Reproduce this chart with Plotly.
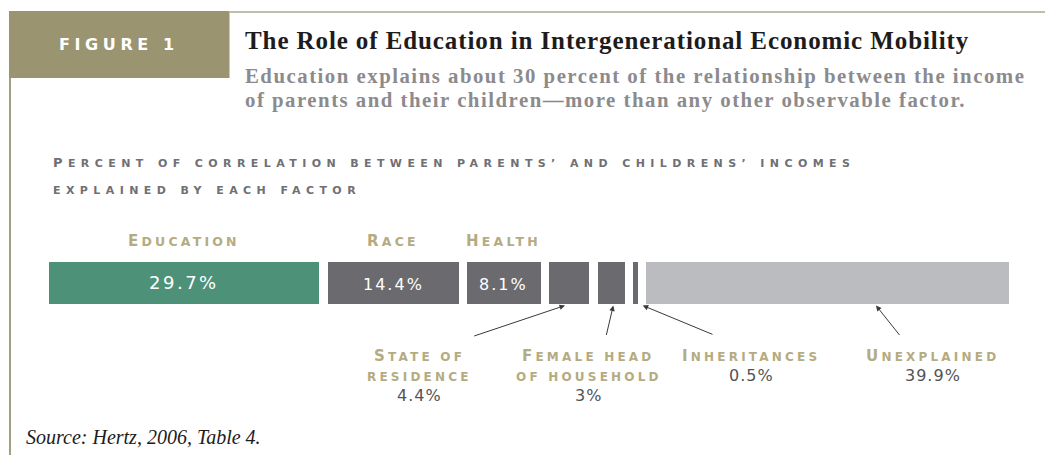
import plotly.graph_objects as go

# ---------------- data ----------------
categories = ["Education", "Race", "Health", "State of residence",
              "Female head of household", "Inheritances", "Unexplained"]
values = [29.7, 14.4, 8.1, 4.4, 3.0, 0.5, 39.9]
value_labels = ["29.7%", "14.4%", "8.1%", "4.4%", "3%", "0.5%", "39.9%"]
top_labels = ["Education", "Race", "Health"]                # labels above the bar
bottom_labels = [["State of", "residence"], ["Female head", "of household"],
                 ["Inheritances"], ["Unexplained"]]          # labels below the bar
bottom_index = [3, 4, 5, 6]

# ---------------- style ----------------
colors = ["#4e9179", "#6b6b6f", "#6b6b6f", "#6b6b6f", "#6b6b6f", "#6b6b6f", "#bbbcc0"]
GOLD = "#b4ab81"
HEAD_GREY = "#707074"
VAL_GREY = "#535356"
OLIVE = "#9b9470"
SANS = "DejaVu Sans"
SERIF = "Liberation Serif"

W, H = 1053, 455
OFF = 8  # page body margin: figure is drawn 8px right/down of page origin

GAP = 0.92
bases = []
acc = 0.0
for v in values:
    bases.append(acc)
    acc += v + GAP
span = acc - GAP
LEFT_PX, RIGHT_PX = 49.3 - OFF, 1009.0 - OFF
K = (RIGHT_PX - LEFT_PX) / span
xmin = -LEFT_PX / K
xmax = xmin + W / K
BAR_Y, BAR_H = 283.0 - OFF, 41.5


def px2x(px):
    return xmin + (px - OFF) / K


def sc(text, big, small, ls):
    """small-caps look: capitals at `big` size, the rest upper-cased at `small` size"""
    out = []
    for ch in text:
        if ch.isupper():
            out.append(f'<span style="font-size:{big}px;letter-spacing:{ls}px">{ch}</span>')
        else:
            out.append(f'<span style="font-size:{small}px;letter-spacing:{ls}px">{ch.upper()}</span>')
    return "".join(out)


fig = go.Figure()
for i, (c, v) in enumerate(zip(categories, values)):
    fig.add_trace(go.Bar(
        y=[BAR_Y], x=[v], base=[bases[i]], orientation="h", width=BAR_H,
        marker=dict(color=colors[i], line=dict(width=0)),
        name=c, showlegend=False, hoverinfo="skip"))

ann = []


def text(x_px, y_px, t, size, color, family=SANS, xanchor="center", weight=None):
    f = dict(size=size, color=color, family=family)
    if weight:
        f["weight"] = weight
    ann.append(dict(x=(x_px - OFF) / W, xref="paper", y=y_px - OFF, yref="y", text=t,
                    showarrow=False, xanchor=xanchor, yanchor="middle", align="left", font=f))


# header
text(118.5, 44.1, '<span style="letter-spacing:4.6px">FIGURE 1</span>', 16, "white", weight="bold")
text(243, 40.0, '<span style="letter-spacing:0.9px"><b>The Role of Education in Intergenerational '
     'Economic Mobility</b></span>', 25, "#1e1b1c", family=SERIF, xanchor="left")
text(243, 76.3, '<span style="letter-spacing:1.5px"><b>Education explains about 30 percent of the '
     'relationship between the income</b></span>', 20.8, "#8b8b8e", family=SERIF, xanchor="left")
text(243, 100.3, '<span style="letter-spacing:1.5px"><b>of parents and their children—more than any '
     'other observable factor.</b></span>', 20.8, "#8b8b8e", family=SERIF, xanchor="left")
text(51, 175.7,
     sc("Percent of correlation between parents’ and childrens’ incomes", 13, 11, 5.4) + "<br>"
     + sc("explained by each factor", 13, 11, 5.4),
     26.5 / 1.3, HEAD_GREY, xanchor="left", weight="bold")

# labels above bar and values in bar
for i, lab in enumerate(top_labels):
    cx = bases[i] + values[i] / 2
    ann.append(dict(x=cx, xref="x", y=240.8 - OFF, yref="y", showarrow=False,
                    text=sc(lab, 15, 12.5, 3.2),
                    font=dict(family=SANS, size=12.5, color=GOLD, weight="bold")))
    big = i == 0
    ann.append(dict(x=cx, xref="x", y=(282.0 if big else 284.5) - OFF, yref="y", showarrow=False,
                    text=f'<span style="letter-spacing:{2.5 if big else 2}px">{value_labels[i]}</span>',
                    font=dict(family=SANS, size=18 if big else 16, color="white")))

# labels below bar
label_cx = [419, 588.5, 751, 932.5]
arrow_tail = [(472.7, 336.5), (606, 336.5), (714, 335), (900.7, 336.5)]
arrow_head_px = [565, 613.3, 642.7, 876]
for j, idx in enumerate(bottom_index):
    lines = bottom_labels[j]
    cx = label_cx[j]
    ys = [355.8, 376.8]
    for k, ln in enumerate(lines):
        text(cx, ys[k], sc(ln, 15, 12, 3.2), 12, GOLD, weight="bold")
    vy = 395.5 if len(lines) == 2 else 375.5
    text(cx, vy, f'<span style="letter-spacing:1px">{value_labels[idx]}</span>', 16, VAL_GREY)
    ann.append(dict(x=px2x(arrow_head_px[j]), xref="x", y=305.5 - OFF, yref="y",
                    ax=px2x(arrow_tail[j][0]), axref="x", ay=arrow_tail[j][1] - OFF, ayref="y",
                    text="", showarrow=True, arrowhead=2, arrowsize=1.1, arrowwidth=1,
                    arrowcolor="#3a3a3a", standoff=0, startstandoff=0))

# source
text(24, 437.0, "<i>Source: Hertz, 2006, Table 4.</i>", 20, "#1e1b1c", family=SERIF, xanchor="left")

shapes = [
    dict(type="rect", xref="paper", yref="y", x0=(9 - OFF) / W, x1=(229.5 - OFF) / W,
         y0=11 - OFF, y1=78 - OFF, fillcolor=OLIVE, line=dict(width=0), layer="below"),
    dict(type="line", xref="paper", yref="y", x0=(10 - OFF) / W, x1=(10 - OFF) / W,
         y0=78 - OFF, y1=H, line=dict(color="#a39f82", width=2)),
    dict(type="line", xref="paper", yref="y", x0=(229.5 - OFF) / W, x1=1, y0=12 - OFF, y1=12 - OFF,
         line=dict(color="#aaa791", width=1.5)),
]

fig.update_layout(
    width=W, height=H, margin=dict(l=0, r=0, t=0, b=0),
    paper_bgcolor="white", plot_bgcolor="white",
    barmode="overlay", bargap=0,
    xaxis=dict(range=[xmin, xmax], visible=False, fixedrange=True),
    yaxis=dict(range=[H, 0], visible=False, fixedrange=True),
    annotations=ann, shapes=shapes,
)

fig.write_html("out.html")
